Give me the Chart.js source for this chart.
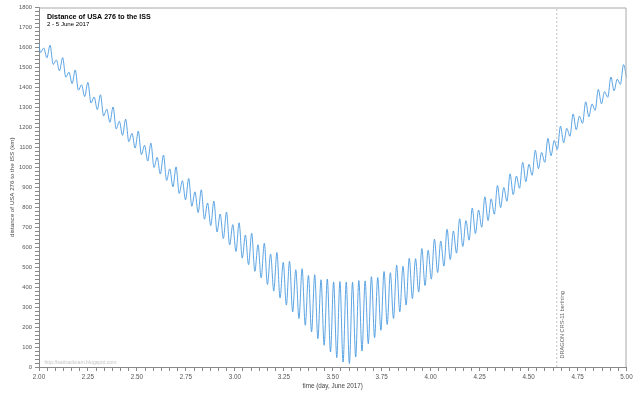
<!DOCTYPE html>
<html lang="en">
<head>
  <meta charset="UTF-8">
  <title>Distance of USA 276 to the ISS</title>
  <style>
    html, body { margin: 0; padding: 0; background: #fff; }
    .chart-box { width: 640px; height: 399px; }
  </style>
</head>
<body>
<div class="chart-box"><canvas id="distChart"></canvas></div>

<script src="https://cdn.jsdelivr.net/npm/chart.js"></script>
<script>
  // sampling grid: one value every quarter of a half orbit (peak / trough alternating)
  const startDay = 1.992;
  const stepDay = 0.01609;

  // distance USA 276 - ISS (km)
  const distanceKm = [
    1668, 1575, 1597, 1548, 1611, 1515, 1537, 1483, 1549, 1451, 1476, 1419, 1487, 1386, 1413, 1354,
    1425, 1322, 1352, 1289, 1363, 1257, 1291, 1225, 1302, 1192, 1230, 1160, 1241, 1128, 1170, 1096,
    1181, 1063, 1110, 1031, 1121, 999, 1050, 966, 1061, 934, 992, 902, 1002, 869, 933, 837,
    944, 805, 877, 773, 887, 740, 821, 708, 831, 676, 766, 643, 776, 611, 713, 578,
    722, 545, 661, 512, 670, 479, 612, 446, 620, 413, 566, 380, 573, 346, 524, 310,
    529, 276, 487, 243, 492, 209, 458, 176, 462, 142, 437, 109, 440, 75, 426, 47,
    428, 25, 425, 17, 424, 50, 433, 80, 431, 117, 452, 147, 448, 184, 478, 213,
    472, 243, 510, 276, 504, 310, 544, 343, 542, 375, 593, 408, 585, 440, 640, 473,
    631, 505, 690, 538, 681, 570, 742, 603, 733, 635, 796, 668, 786, 700, 852, 733,
    842, 765, 909, 798, 899, 830, 967, 863, 956, 895, 1025, 928, 1015, 960, 1085, 993,
    1074, 1025, 1145, 1058, 1134, 1090, 1206, 1123, 1195, 1155, 1267, 1188, 1256, 1220, 1328, 1253,
    1317, 1285, 1390, 1318, 1379, 1350, 1452, 1383, 1441, 1415, 1514, 1448
  ];

  const berthingDay = 4.644;
  const berthingLabel = 'DRAGON CRS-11 berthing';
  const xRange = [2, 5];
  const yRange = [0, 1800];
  const xMinorStep = 1 / 24;   // one hour
  const yMinorStep = 20;

  const FONT = '"Liberation Sans", Arial, sans-serif';

  const series = distanceKm.map((d, i) => ({ x: startDay + i * stepDay, y: d }));
  const berthingLine = [{ x: berthingDay, y: yRange[0] }, { x: berthingDay, y: yRange[1] }];

  // frame + free texts
  const decorations = {
    id: 'decorations',
    afterDraw(chart) {
      const { ctx, chartArea: a, scales } = chart;
      ctx.save();
      ctx.strokeStyle = '#a8a8a8';
      ctx.lineWidth = 1;
      ctx.beginPath();
      ctx.moveTo(a.left, a.top + 0.5);
      ctx.lineTo(a.right - 0.5, a.top + 0.5);
      ctx.lineTo(a.right - 0.5, a.bottom);
      ctx.stroke();

      ctx.fillStyle = '#000';
      ctx.textAlign = 'left';
      ctx.textBaseline = 'alphabetic';
      ctx.font = 'bold 7.1px ' + FONT;
      ctx.fillText('Distance of USA 276 to the ISS', a.left + 8, a.top + 11);
      ctx.font = '6.1px ' + FONT;
      ctx.fillText('2 - 5 June 2017', a.left + 8, a.top + 18.7);

      ctx.fillStyle = '#c4c4c4';
      ctx.font = '5.1px ' + FONT;
      ctx.fillText('http://sattrackcam.blogspot.com', a.left + 5.5, a.bottom - 3.5);

      const lx = scales.x.getPixelForValue(berthingDay);
      ctx.translate(lx + 6, a.bottom - 8.5);
      ctx.rotate(-Math.PI / 2);
      ctx.fillStyle = '#666';
      ctx.font = '5.6px ' + FONT;
      ctx.textBaseline = 'middle';
      ctx.fillText(berthingLabel, 0, 0);
      ctx.restore();
    }
  };

  const ctx = document.getElementById('distChart').getContext('2d');
  const chart = new Chart(ctx, {
    type: 'line',
    data: {
      datasets: [
        {
          data: series,
          borderColor: '#4a9ae0',
          borderWidth: 0.9,
          pointRadius: 0,
          cubicInterpolationMode: 'monotone'
        },
        {
          data: berthingLine,
          borderColor: '#c4c4c4',
          borderWidth: 1,
          borderDash: [2, 2],
          pointRadius: 0
        }
      ]
    },
    options: {
      responsive: true,
      maintainAspectRatio: false,
      animation: false,
      layout: { padding: { left: 4, right: 13.5, top: 7.5, bottom: 6 } },
      plugins: {
        legend: { display: false },
        tooltip: { enabled: false }
      },
      scales: {
        x: {
          type: 'linear',
          min: xRange[0],
          max: xRange[1],
          afterFit: s => { s.height = 26; },
          border: { color: '#888' },
          grid: { drawOnChartArea: false, drawTicks: true, tickLength: 4, color: '#888' },
          ticks: {
            stepSize: xMinorStep,
            autoSkip: false,
            maxRotation: 0,
            padding: 2,
            color: '#555',
            font: { family: FONT, size: 6.3 },
            callback: v => Math.abs(v * 4 - Math.round(v * 4)) < 1e-6 ? v.toFixed(2) : ''
          },
          title: {
            display: true,
            text: 'time (day, June 2017)',
            color: '#444',
            font: { family: FONT, size: 6.3 },
            padding: { top: 0, bottom: 2.5 }
          }
        },
        y: {
          min: yRange[0],
          max: yRange[1],
          afterFit: s => { s.width = 35; },
          border: { color: '#888' },
          grid: { drawOnChartArea: false, drawTicks: true, tickLength: 4, color: '#888' },
          ticks: {
            stepSize: yMinorStep,
            autoSkip: false,
            padding: 3,
            color: '#555',
            font: { family: FONT, size: 5.8 },
            callback: v => v % 100 === 0 ? v : ''
          },
          title: {
            display: true,
            text: 'distance of USA 276 to the ISS (km)',
            color: '#444',
            font: { family: FONT, size: 6.2 },
            padding: { top: 4.3, bottom: 0 }
          }
        }
      }
    },
    plugins: [decorations]
  });
</script>
</body>
</html>
